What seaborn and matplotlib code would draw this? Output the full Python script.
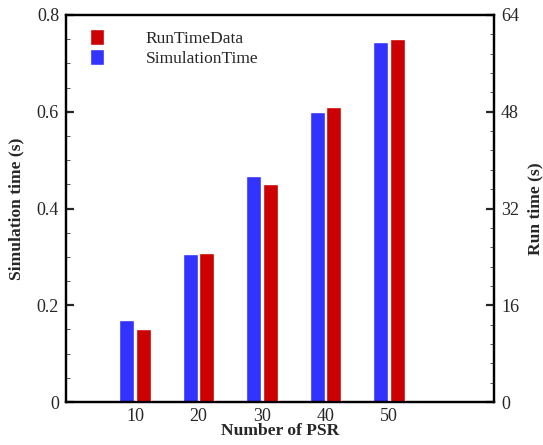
import matplotlib
matplotlib.use("Agg")
import matplotlib.pyplot as plt
from matplotlib.patches import Patch
from matplotlib.ticker import MultipleLocator, AutoMinorLocator, FuncFormatter
import seaborn as sns
import pandas as pd

psr = ["10", "20", "30", "40", "50"]
simulation_time = [0.17, 0.305, 0.467, 0.60, 0.744]
run_time = [12.0, 24.7, 36.0, 48.8, 60.0]
series_order = ["SimulationTime", "RunTimeData"]
colors = {"SimulationTime": "#3333FF", "RunTimeData": "#CC0000"}

df = pd.concat([
    pd.DataFrame({"psr": psr, "value": simulation_time, "series": "SimulationTime"}),
    pd.DataFrame({"psr": psr, "value": run_time, "series": "RunTimeData"}),
], ignore_index=True)

sns.set_style("ticks")
plt.rcParams["font.family"] = ["Liberation Serif", "DejaVu Serif"]

fig = plt.figure(figsize=(5.43, 4.45), dpi=100)
ax = fig.add_axes([0.1215, 0.0966, 0.7883, 0.8697])
ax2 = ax.twinx()

sns.barplot(data=df[df.series == "SimulationTime"], x="psr", y="value", hue="series",
            hue_order=series_order, order=psr, palette=colors, dodge=True, width=0.52,
            gap=0.1, saturation=1, legend=False, ax=ax, errorbar=None)
sns.barplot(data=df[df.series == "RunTimeData"], x="psr", y="value", hue="series",
            hue_order=series_order, order=psr, palette=colors, dodge=True, width=0.52,
            gap=0.1, saturation=1, legend=False, ax=ax2, errorbar=None)

for a in (ax, ax2):
    a.set_xlim(-1.087, 5.65)
    for s in a.spines.values():
        s.set_linewidth(1.6)
        s.set_color("black")
        s.set_visible(True)

ax.set_ylim(0, 0.8)
ax.yaxis.set_major_locator(MultipleLocator(0.2))
ax.yaxis.set_minor_locator(AutoMinorLocator(4))
ax.yaxis.set_major_formatter(FuncFormatter(lambda v, p: "0" if abs(v) < 1e-9 else f"{v:.1f}"))
ax2.set_ylim(0, 64)
ax2.yaxis.set_major_locator(MultipleLocator(16))
ax2.yaxis.set_minor_locator(AutoMinorLocator(5))

ax.tick_params(axis="y", which="major", direction="in", length=6, width=1.6, labelsize=13, pad=5)
ax.tick_params(axis="y", which="minor", direction="in", length=3, width=0.7, color="#555555")
ax2.tick_params(axis="y", which="major", direction="in", length=6, width=1.6, labelsize=13, pad=5)
ax2.tick_params(axis="y", which="minor", direction="in", length=3, width=0.7, color="#555555")
ax.tick_params(axis="x", length=0, labelsize=13, pad=4)

ax.set_xlabel("Number of PSR", fontsize=12.6, fontweight="bold", labelpad=-1)
ax.set_ylabel("Simulation time (s)", fontsize=12.6, fontweight="bold", labelpad=9)
ax2.set_ylabel("Run time (s)", fontsize=12.6, fontweight="bold", labelpad=6)

handles = [Patch(facecolor=colors["RunTimeData"], label="RunTimeData"),
           Patch(facecolor=colors["SimulationTime"], label="SimulationTime")]
ax2.legend(handles=handles, loc="upper left", bbox_to_anchor=(0.02, 1.005), frameon=False,
           fontsize=12.5, handlelength=0.8, handleheight=1.1, handletextpad=2.4,
           labelspacing=0.1)

fig.savefig("out.png", dpi=100)
